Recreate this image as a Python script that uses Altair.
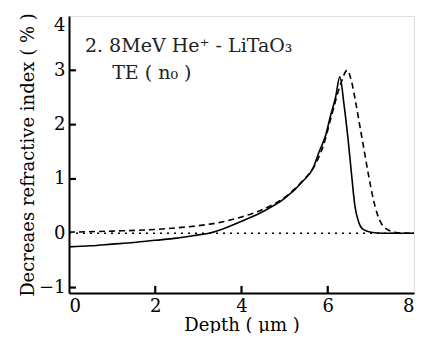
import altair as alt
import pandas as pd

# Solid curve (one measurement)
solid_x = [0, 0.5, 1.0, 1.5, 2.0, 2.5, 3.0, 3.25, 3.5, 4.0, 4.5, 5.0, 5.4, 5.66, 5.8, 5.95, 6.06, 6.18, 6.28,
           6.38, 6.47, 6.55, 6.63, 6.72, 6.82, 7.0, 7.3, 7.6, 8.0]
solid_y = [-0.25, -0.23, -0.2, -0.17, -0.13, -0.09, -0.03, 0.0, 0.06, 0.22, 0.4, 0.64, 0.94, 1.2, 1.5, 1.8, 2.15, 2.5, 2.88,
           2.35, 1.74, 1.1, 0.5, 0.2, 0.07, 0.02, 0.0, 0.0, 0.0]

# Dashed curve
dash_x = [0, 1.0, 2.0, 2.5, 3.0, 3.5, 4.0, 4.5, 5.0, 5.4, 5.7, 5.9, 6.1, 6.3, 6.45, 6.55, 6.65, 6.75, 6.85,
          6.95, 7.05, 7.15, 7.25, 7.38, 7.55, 7.8, 8.0]
dash_y = [0.02, 0.04, 0.07, 0.1, 0.14, 0.2, 0.3, 0.44, 0.66, 0.95, 1.25, 1.62, 2.2, 2.75, 3.0, 2.8, 2.4, 1.95, 1.5,
          1.05, 0.65, 0.35, 0.17, 0.07, 0.02, 0.0, 0.0]

# Dotted baseline
base_x = [0, 8]
base_y = [0, 0]

x_ticks = [0, 2, 4, 6, 8]
y_ticks = [-1, 0, 1, 2, 3, 4]
x_inner_ticks = [2, 4, 6]
y_inner_ticks = [-1, 1, 2, 3]

ann_text = ["2. 8MeV  He\u207a - LiTaO\u2083", "TE ( n\u2080 )"]
ann_x = [0.37, 1.0]
ann_y = [3.45, 2.95]

FONT = "DejaVu Serif"

xs = alt.Scale(domain=[0, 8], nice=False, zero=False)
ys = alt.Scale(domain=[-1.1, 4], nice=False, zero=False)

main_x_axis = alt.Axis(values=x_ticks, title="Depth   ( \u03bcm )", ticks=False, tickSize=0, grid=False,
                       labelFont=FONT, labelFontSize=18, labelColor="black", labelPadding=4,
                       titleFont=FONT, titleFontSize=18, titleFontWeight="normal", titleColor="black",
                       titlePadding=1, domainColor="black", domainWidth=2)
main_y_axis = alt.Axis(values=y_ticks, title="Decreaes  refractive  index  ( % )", ticks=False, tickSize=0, grid=False,
                       labelFont=FONT, labelFontSize=18, labelColor="black", labelPadding=4, labelFlush=True,
                       titleFont=FONT, titleFontSize=18, titleFontWeight="normal", titleColor="black",
                       titlePadding=1, domainColor="black", domainWidth=2)

solid_df = pd.DataFrame({"x": solid_x, "y": solid_y})
dash_df = pd.DataFrame({"x": dash_x, "y": dash_y})
base_df = pd.DataFrame({"x": base_x, "y": base_y})
ann_df = pd.DataFrame({"t": ann_text, "x": ann_x, "y": ann_y})
xt_df = pd.DataFrame({"tx": x_inner_ticks, "ty0": [-1.1] * 3, "ty1": [-0.97] * 3})
yt_df = pd.DataFrame({"ty": y_inner_ticks, "tx0": [0.0] * 4, "tx1": [0.16] * 4})

solid = alt.Chart(solid_df).mark_line(color="black", strokeWidth=1.6, interpolate="monotone").encode(
    x=alt.X("x:Q", scale=xs, axis=main_x_axis),
    y=alt.Y("y:Q", scale=ys, axis=main_y_axis),
)

dashed = alt.Chart(dash_df).mark_line(color="black", strokeWidth=1.6, strokeDash=[6, 4],
                                      interpolate="monotone").encode(
    x=alt.X("x:Q", scale=xs),
    y=alt.Y("y:Q", scale=ys),
)

dotted = alt.Chart(base_df).mark_line(color="black", strokeWidth=1.4, strokeDash=[2, 5]).encode(
    x=alt.X("x:Q", scale=xs),
    y=alt.Y("y:Q", scale=ys),
)

xticks = alt.Chart(xt_df).mark_rule(color="black", strokeWidth=2.2).encode(
    x=alt.X("tx:Q", scale=xs),
    y=alt.Y("ty0:Q", scale=ys),
    y2="ty1:Q",
)
yticks = alt.Chart(yt_df).mark_rule(color="black", strokeWidth=2.2).encode(
    y=alt.Y("ty:Q", scale=ys),
    x=alt.X("tx0:Q", scale=xs),
    x2="tx1:Q",
)

ann = alt.Chart(ann_df).mark_text(align="left", baseline="middle", font=FONT, fontSize=19,
                                  color="#222222").encode(
    x=alt.X("x:Q", scale=xs),
    y=alt.Y("y:Q", scale=ys),
    text="t:N",
)

chart = alt.layer(solid, dashed, dotted, xticks, yticks, ann).properties(
    width=345, height=277,
    autosize="none",
    padding={"left": 61, "top": 8, "right": 4, "bottom": 40},
).configure_view(stroke="black", strokeWidth=2).configure(background="white")

chart.save("out.html", embed_options={"renderer": "svg", "actions": False})
